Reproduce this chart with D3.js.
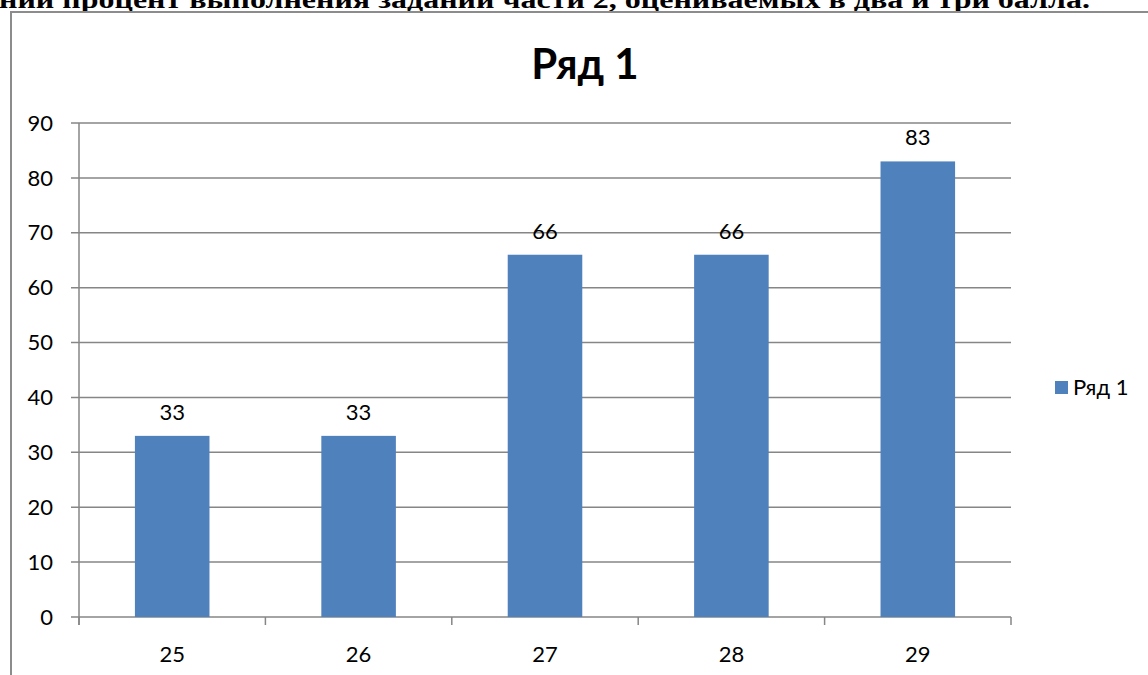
<!DOCTYPE html>
<html><head><meta charset="utf-8">
<script src="https://cdn.jsdelivr.net/npm/d3@7"></script>
<style>body{margin:0;background:#fff;overflow:hidden}svg{display:block}</style>
</head><body>
<svg id="c" width="1148" height="675"></svg>
<script>
const categories = ["25","26","27","28","29"];
const values = [33,33,66,66,83];
const yTicks = [0,10,20,30,40,50,60,70,80,90];
const seriesName = "Ряд 1";
const headerText = "ний процент выполнения заданий  части 2, оцениваемых в два и три балла.";

(function(){
const svg = d3.select("#c");
const font = "Lato, 'Open Sans', sans-serif";
const pLeft = 79, pRight = 1011, pTop = 123, pBottom = 617;

// header text (cut off at top)
svg.append("text").attr("x", -1).attr("y", 8)
  .style("font-family","'Liberation Serif', 'DejaVu Serif', serif").attr("font-weight","bold")
  .attr("font-size", 25).attr("textLength", 1091).attr("lengthAdjust","spacingAndGlyphs")
  .text(headerText);

// frame
svg.append("path").attr("d","M11,675 L11,12 L1148,12").attr("fill","none")
  .attr("stroke","#8c8c8c").attr("stroke-width",2);

const x = d3.scaleBand().domain(categories).range([pLeft,pRight]).paddingInner(0).paddingOuter(0);
const y = d3.scaleLinear().domain([0,90]).range([pBottom,pTop]);

// gridlines
svg.append("g").selectAll("line").data(yTicks).join("line")
  .attr("x1", pLeft-8).attr("x2", pRight).attr("y1", d=>y(d)).attr("y2", d=>y(d))
  .attr("stroke","#868686").attr("stroke-width",1.5);

// y axis line
svg.append("line").attr("x1",pLeft).attr("x2",pLeft).attr("y1",pTop).attr("y2",pBottom+8)
  .attr("stroke","#868686").attr("stroke-width",1.5);

// x ticks at boundaries
const bounds = categories.map(c=>x(c)).concat([pRight]);
svg.append("g").selectAll("line").data(bounds).join("line")
  .attr("x1",d=>d).attr("x2",d=>d).attr("y1",pBottom).attr("y2",pBottom+8)
  .attr("stroke","#868686").attr("stroke-width",1.5);

// y labels
svg.append("g").selectAll("text").data(yTicks).join("text")
  .attr("x", 53).attr("y", d=>y(d)).attr("dy","0.35em").attr("text-anchor","end")
  .style("font-family",font).attr("font-size",22).attr("fill","#000").text(d=>d);

// x labels
svg.append("g").selectAll("text").data(categories).join("text")
  .attr("x", d=>x(d)+x.bandwidth()/2).attr("y", 662).attr("text-anchor","middle")
  .style("font-family",font).attr("font-size",22).attr("fill","#000").text(d=>d);

// bars
const bw = x.bandwidth()/2.5;
svg.append("g").selectAll("rect").data(values).join("rect")
  .attr("x",(d,i)=>x(categories[i])+x.bandwidth()/2-bw/2)
  .attr("width",bw).attr("y",d=>y(d)).attr("height",d=>y(0)-y(d))
  .attr("fill","#4f81bd");

// data labels
svg.append("g").selectAll("text").data(values).join("text")
  .attr("x",(d,i)=>x(categories[i])+x.bandwidth()/2).attr("y",d=>y(d)-16)
  .attr("text-anchor","middle").style("font-family",font).attr("font-size",22)
  .attr("fill","#000").text(d=>d);

// title
svg.append("text").attr("x",585).attr("y",79).attr("text-anchor","middle")
  .style("font-family",font).attr("font-weight","bold").attr("font-size",42)
  .text(seriesName);

// legend
svg.append("rect").attr("x",1055).attr("y",381).attr("width",13).attr("height",13).attr("fill","#4f81bd");
svg.append("text").attr("x",1073).attr("y",395).style("font-family",font).attr("font-size",22).text(seriesName);
})();
</script>
</body></html>
